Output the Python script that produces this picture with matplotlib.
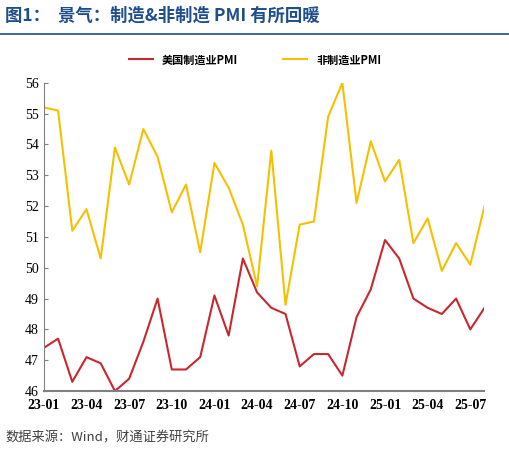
import matplotlib
matplotlib.use('Agg')
import matplotlib.pyplot as plt
from matplotlib.lines import Line2D

plt.rcParams['font.family'] = ['Noto Sans CJK SC', 'DejaVu Sans']

months = ['23-01','23-02','23-03','23-04','23-05','23-06','23-07','23-08','23-09','23-10','23-11','23-12',
          '24-01','24-02','24-03','24-04','24-05','24-06','24-07','24-08','24-09','24-10','24-11','24-12',
          '25-01','25-02','25-03','25-04','25-05','25-06','25-07','25-08']
us_pmi = [47.4,47.7,46.3,47.1,46.9,46.0,46.4,47.6,49.0,46.7,46.7,47.1,49.1,47.8,50.3,49.2,48.7,48.5,
          46.8,47.2,47.2,46.5,48.4,49.3,50.9,50.3,49.0,48.7,48.5,49.0,48.0,48.7]
non_pmi = [55.2,55.1,51.2,51.9,50.3,53.9,52.7,54.5,53.6,51.8,52.7,50.5,53.4,52.6,51.4,49.4,53.8,48.8,
           51.4,51.5,54.9,56.0,52.1,54.1,52.8,53.5,50.8,51.6,49.9,50.8,50.1,52.0]
labels = ['美国制造业PMI', '非制造业PMI']

fig = plt.figure(figsize=(5.1, 4.5), dpi=100)
ax = fig.add_axes([0.086, 0.131, 0.864, 0.685])
x = list(range(len(months)))
ax.plot(x, us_pmi, color='#C8282D', lw=1.5)
ax.plot(x, non_pmi, color='#F5C000', lw=1.5)
ax.set_xlim(0, len(months)-1)
ax.set_ylim(46, 56)
ax.set_yticks(range(46, 57))
ax.set_xticks(x[::3])
ax.set_xticklabels(months[::3], fontfamily='Liberation Serif', fontweight='bold', fontsize=10)
for t in ax.get_yticklabels():
    t.set_fontfamily('Liberation Serif'); t.set_fontsize(10)
for s in ['top', 'right']:
    ax.spines[s].set_visible(False)
for s in ['left', 'bottom']:
    ax.spines[s].set_color('#808080')
ax.spines['bottom'].set_linewidth(1.5)
ax.tick_params(axis='x', length=0, pad=6)
ax.tick_params(axis='y', length=3, color='#808080', direction='in')

handles = [Line2D([], [], color='#C8282D', lw=1.5), Line2D([], [], color='#F5C000', lw=1.5)]
fig.legend(handles, labels, loc='center', bbox_to_anchor=(0.5, 0.867), ncol=2, frameon=False,
           prop={'family': 'Noto Sans CJK SC', 'weight': 'bold', 'size': 8}, handlelength=2.2, columnspacing=4)

fig.text(0.01, 0.965, '图1：  景气：制造&非制造 PMI 有所回暖', fontsize=12.5, fontweight='bold',
         color='#1F4E8C', va='center')
fig.add_artist(Line2D([0.0, 1.0], [0.925, 0.925], color='#1F4E8C', lw=1.2, transform=fig.transFigure))
fig.text(0.01, 0.027, '数据来源：Wind，财通证券研究所', fontsize=9.5, color='#404040', va='center')

fig.savefig('out.png', dpi=100)
